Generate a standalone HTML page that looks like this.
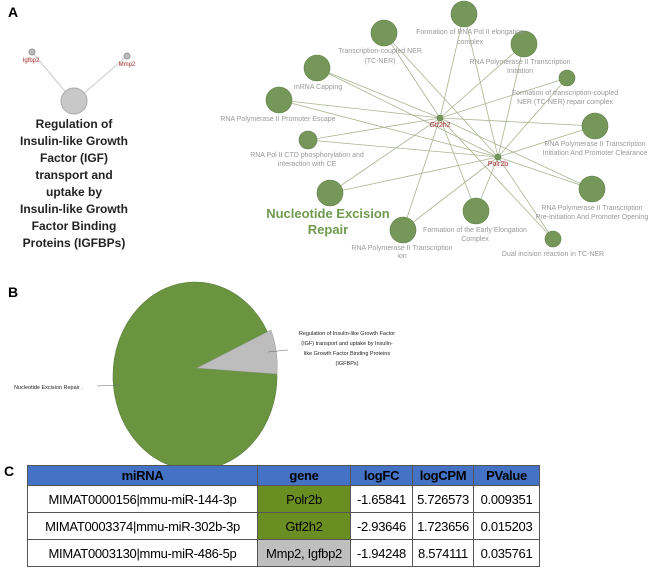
<!DOCTYPE html>
<html><head><meta charset="utf-8"><style>
body{margin:0;width:650px;height:568px;background:#fff;overflow:hidden;font-family:"Liberation Sans",Arial,sans-serif}
svg{position:absolute;left:0;top:0}
table{position:absolute;left:27px;top:465px;border-collapse:collapse;font-family:"Liberation Sans",sans-serif;font-size:13px;letter-spacing:-0.3px;table-layout:fixed}
td,th{border:1px solid #555;padding:0;text-align:center;height:26px;white-space:nowrap;overflow:hidden}
th{background:#4472c4;color:#000;font-weight:bold;height:19px}
.g{background:#6b8e23}.gr{background:#bfbfbf}
</style></head><body>
<svg width="650" height="568" xmlns="http://www.w3.org/2000/svg" font-family="Liberation Sans, Arial, sans-serif">
<text x="8" y="17" font-size="14" font-weight="bold">A</text>
<text x="8" y="297" font-size="14" font-weight="bold">B</text>
<text x="4" y="476" font-size="14" font-weight="bold">C</text>
<g stroke="#ccc" stroke-width="1"><line x1="32" y1="52" x2="74" y2="102"/><line x1="127" y1="56" x2="74" y2="102"/></g>
<circle cx="32" cy="52" r="3" fill="#bbb" stroke="#999"/>
<circle cx="127" cy="56" r="3" fill="#bbb" stroke="#999"/>
<circle cx="74" cy="101" r="13" fill="#c8c8c8" stroke="#aaa"/>
<text x="31" y="62" font-size="6" fill="#a52a2a" text-anchor="middle">Igfbp2</text>
<text x="127" y="66" font-size="6" fill="#a52a2a" text-anchor="middle">Mmp2</text>
<g font-size="12" font-weight="bold" text-anchor="middle" fill="#222">
<text x="74" y="128">Regulation of</text><text x="74" y="145">Insulin-like Growth</text><text x="74" y="162">Factor (IGF)</text><text x="74" y="179">transport and</text><text x="74" y="196">uptake by</text><text x="74" y="213">Insulin-like Growth</text><text x="74" y="230">Factor Binding</text><text x="74" y="247">Proteins (IGFBPs)</text>
</g>
<g stroke="#a9b592" stroke-width="0.8">
<line x1="464" y1="14" x2="440" y2="118"/><line x1="464" y1="14" x2="498" y2="157"/>
<line x1="384" y1="33" x2="440" y2="118"/><line x1="384" y1="33" x2="498" y2="157"/>
<line x1="524" y1="44" x2="440" y2="118"/><line x1="524" y1="44" x2="498" y2="157"/>
<line x1="317" y1="68" x2="440" y2="118"/><line x1="317" y1="68" x2="498" y2="157"/>
<line x1="567" y1="78" x2="440" y2="118"/><line x1="567" y1="78" x2="498" y2="157"/>
<line x1="279" y1="100" x2="440" y2="118"/><line x1="279" y1="100" x2="498" y2="157"/>
<line x1="595" y1="126" x2="440" y2="118"/><line x1="595" y1="126" x2="498" y2="157"/>
<line x1="308" y1="140" x2="440" y2="118"/><line x1="308" y1="140" x2="498" y2="157"/>
<line x1="330" y1="193" x2="440" y2="118"/><line x1="330" y1="193" x2="498" y2="157"/>
<line x1="592" y1="189" x2="440" y2="118"/><line x1="592" y1="189" x2="498" y2="157"/>
<line x1="476" y1="211" x2="440" y2="118"/><line x1="476" y1="211" x2="498" y2="157"/>
<line x1="403" y1="230" x2="440" y2="118"/><line x1="403" y1="230" x2="498" y2="157"/>
<line x1="553" y1="239" x2="440" y2="118"/><line x1="553" y1="239" x2="498" y2="157"/>
</g>
<g fill="#76975a" stroke="#5f7d47" stroke-width="0.6">
<circle cx="464" cy="14" r="13"/><circle cx="384" cy="33" r="13"/><circle cx="524" cy="44" r="13"/>
<circle cx="317" cy="68" r="13"/><circle cx="567" cy="78" r="8"/><circle cx="279" cy="100" r="13"/>
<circle cx="595" cy="126" r="13"/><circle cx="308" cy="140" r="9"/><circle cx="330" cy="193" r="13"/>
<circle cx="592" cy="189" r="13"/><circle cx="476" cy="211" r="13"/><circle cx="403" cy="230" r="13"/>
<circle cx="553" cy="239" r="8"/><circle cx="440" cy="118" r="3"/><circle cx="498" cy="157" r="3"/>
</g>
<g font-size="7" fill="#999" text-anchor="middle">
<text x="470" y="34">Formation of RNA Pol II elongation</text><text x="470" y="44">complex</text>
<text x="380" y="53">Transcription-coupled NER</text><text x="380" y="63">(TC-NER)</text>
<text x="520" y="64">RNA Polymerase II Transcription</text><text x="520" y="73">Initiation</text>
<text x="318" y="89">mRNA Capping</text>
<text x="565" y="95">Formation of transcription-coupled</text><text x="565" y="104">NER (TC-NER) repair complex</text>
<text x="278" y="121">RNA Polymerase II Promoter Escape</text>
<text x="595" y="146">RNA Polymerase II Transcription</text><text x="595" y="155">Initiation And Promoter Clearance</text>
<text x="307" y="157">RNA Pol II CTD phosphorylation and</text><text x="307" y="166">interaction with CE</text>
<text x="592" y="210">RNA Polymerase II Transcription</text><text x="592" y="219">Pre-Initiation And Promoter Opening</text>
<text x="475" y="232">Formation of the Early Elongation</text><text x="475" y="241">Complex</text>
<text x="402" y="250">RNA Polymerase II Transcription</text><text x="402" y="258">ion</text>
<text x="553" y="256">Dual incision reaction in TC-NER</text>
</g>
<text x="440" y="127" font-size="7" fill="#a52a2a" text-anchor="middle">Gtf2h2</text>
<text x="498" y="166" font-size="7" fill="#a52a2a" text-anchor="middle">Polr2b</text>
<text x="328" y="218" font-size="13" font-weight="bold" fill="#6f9a4f" text-anchor="middle">Nucleotide Excision</text>
<text x="328" y="234" font-size="13" font-weight="bold" fill="#6f9a4f" text-anchor="middle">Repair</text>
<ellipse cx="195" cy="376" rx="82" ry="94" fill="#6a9440" stroke="#5a7a3a" stroke-width="0.6"/>
<path d="M197,368 L271,330 A82,94 0 0 1 277,374 Z" fill="#bdbdbd" stroke="#999" stroke-width="0.5"/>
<line x1="97" y1="386" x2="120" y2="385" stroke="#666" stroke-width="0.6"/>
<line x1="268" y1="352" x2="288" y2="350" stroke="#666" stroke-width="0.6"/>
<text x="14" y="389" font-size="5.5" fill="#222">Nucleotide Excision Repair .</text>
<g font-size="5.5" fill="#222" text-anchor="middle">
<text x="347" y="335">Regulation of Insulin-like Growth Factor</text><text x="347" y="345">(IGF) transport and uptake by Insulin-</text><text x="347" y="355">like Growth Factor Binding Proteins</text><text x="347" y="365">(IGFBPs)</text>
</g>
</svg>
<table>
<colgroup><col style="width:230px"><col style="width:93px"><col style="width:62px"><col style="width:61px"><col style="width:66px"></colgroup>
<tr><th>miRNA</th><th>gene</th><th>logFC</th><th>logCPM</th><th>PValue</th></tr>
<tr><td>MIMAT0000156|mmu-miR-144-3p</td><td class="g">Polr2b</td><td>-1.65841</td><td>5.726573</td><td>0.009351</td></tr>
<tr><td>MIMAT0003374|mmu-miR-302b-3p</td><td class="g">Gtf2h2</td><td>-2.93646</td><td>1.723656</td><td>0.015203</td></tr>
<tr><td>MIMAT0003130|mmu-miR-486-5p</td><td class="gr">Mmp2, Igfbp2</td><td>-1.94248</td><td>8.574111</td><td>0.035761</td></tr>
</table>
</body></html>
